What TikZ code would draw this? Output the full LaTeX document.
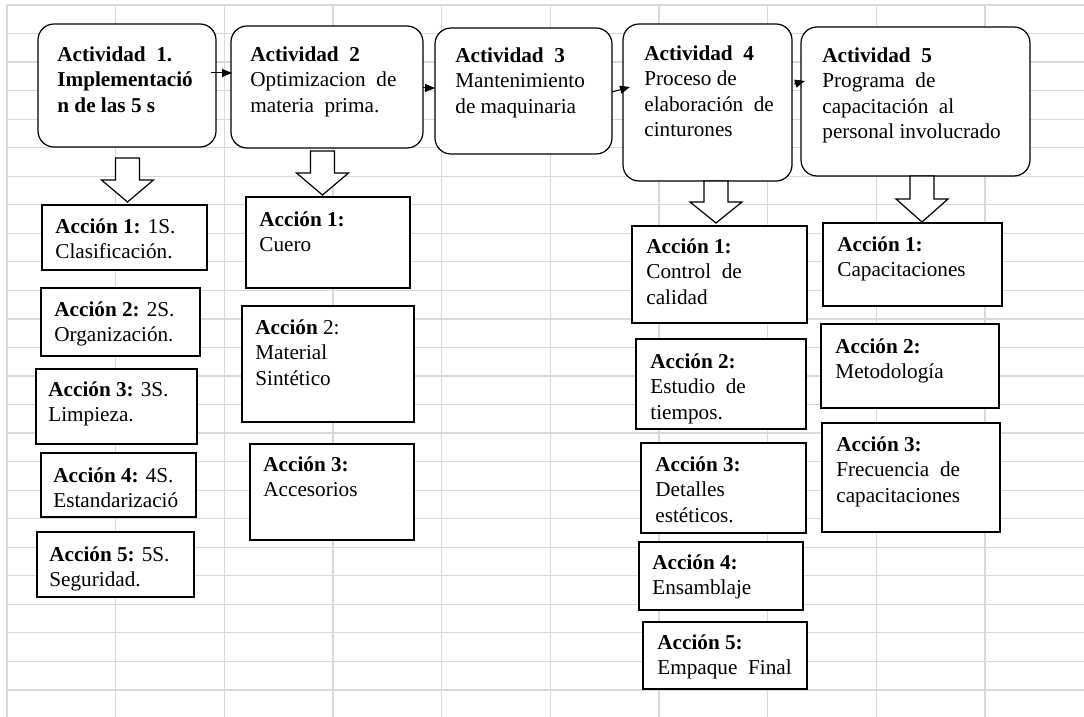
\documentclass[tikz,border=0pt]{standalone}
\usepackage{fontspec}
\setmainfont{Liberation Serif}
\usetikzlibrary{arrows.meta, calc}

\begin{document}
\begin{tikzpicture}[x=0.5pt, y=-0.5pt,
    actbox/.style={draw=black, line width=0.6pt, fill=white, rounded corners=8pt, inner sep=0pt, outer sep=0pt, anchor=north west},
    accbox/.style={draw=black, line width=0.6pt, fill=white, inner sep=0pt, outer sep=0pt, anchor=north west},
    boxtext/.style={anchor=north west, inner sep=0pt, align=left, font=\fontsize{10.6}{12.75}\selectfont},
    flow/.style={-{Triangle[length=5pt, width=4pt]}, line width=0.5pt},
    bigarrow/.style={draw=black, line width=0.6pt, fill=white, line join=miter},
    gridline/.style={draw=gray!30, line width=0.6pt}]
    % =========================================================
    % SPREADSHEET GRID BEHIND THE DIAGRAM
    % =========================================================
    \useasboundingbox (0,0) rectangle (1084,717);
    \fill[white] (0,0) rectangle (1084,717);
    \begin{scope}[shift={(7,5)}]
        \draw[gridline, xstep=54.33pt, ystep=14.27pt] (0pt,-356pt) grid (538.5pt,0pt);
    \end{scope}

    % =========================================================
    % ACTIVIDADES (ROUNDED BOXES, TOP ROW)
    % =========================================================
    \node[actbox, minimum width=89pt, minimum height=61.5pt] (act1) at (38,24) {};
    \node[actbox, minimum width=96pt, minimum height=61pt] (act2) at (231,26) {};
    \node[actbox, minimum width=88.5pt, minimum height=63pt] (act3) at (435,28) {};
    \node[actbox, minimum width=84.5pt, minimum height=78.5pt] (act4) at (623,24) {};
    \node[actbox, minimum width=114.5pt, minimum height=74.5pt] (act5) at (801,27) {};

    \node[boxtext] (act1txt) at ($(act1.north west)+(19,22)$) {\textbf{Actividad\ \ 1.}\\\textbf{Implementació}\\\textbf{n de las 5 s}};
    \node[boxtext] (act2txt) at ($(act2.north west)+(19,20)$) {\textbf{Actividad\ \ 2}\\Optimizacion\ \ de\\materia\ \ prima.};
    \node[boxtext] (act3txt) at ($(act3.north west)+(20,19)$) {\textbf{Actividad\ \ 3}\\Mantenimiento\\de maquinaria};
    \node[boxtext] (act4txt) at ($(act4.north west)+(21,21)$) {\textbf{Actividad\ \ 4}\\Proceso de\\elaboración\ \ de\\cinturones};
    \node[boxtext] (act5txt) at ($(act5.north west)+(21,20)$) {\textbf{Actividad\ \ 5}\\Programa\ \ de\\capacitación\ \ al\\personal involucrado};

    % flow between activities
    \draw[flow] ($(act1.east)+(-5,-12.5)$) -- ($(act2.west)+(1,-14)$);
    \draw[flow] ($(act2.east)+(0,1)$) -- ($(act3.west)+(0,-3)$);
    \draw[flow] ($(act3.east)+(0,1)$) -- ($(act4.west)+(7,-15.5)$);
    \draw[flow] ($(act4.east)+(2,-18.5)$) -- ($(act5.west)+(4,-20.5)$);

    % =========================================================
    % ACCIONES (PLAIN BOXES, ONE COLUMN PER ACTIVIDAD)
    % =========================================================
    \node[accbox, minimum width=82.5pt, minimum height=32.5pt] (c1a1) at (42,205) {};
    \node[accbox, minimum width=79.5pt, minimum height=34pt] (c1a2) at (41,288) {};
    \node[accbox, minimum width=80.5pt, minimum height=37.5pt] (c1a3) at (36,369) {};
    \node[accbox, minimum width=77.5pt, minimum height=32pt] (c1a4) at (41,453) {};
    \node[accbox, minimum width=78.5pt, minimum height=32.5pt] (c1a5) at (37,532) {};

    \node[accbox, minimum width=82pt, minimum height=45.5pt] (c2a1) at (246,197) {};
    \node[accbox, minimum width=86pt, minimum height=58pt] (c2a2) at (242,306) {};
    \node[accbox, minimum width=82pt, minimum height=48pt] (c2a3) at (250,444) {};

    \node[accbox, minimum width=87.5pt, minimum height=48.5pt] (c4a1) at (632,226) {};
    \node[accbox, minimum width=85pt, minimum height=45pt] (c4a2) at (636,339) {};
    \node[accbox, minimum width=82.5pt, minimum height=45pt] (c4a3) at (641,443) {};
    \node[accbox, minimum width=82pt, minimum height=34pt] (c4a4) at (639,542) {};
    \node[accbox, minimum width=82pt, minimum height=33.5pt] (c4a5) at (643,622) {};

    \node[accbox, minimum width=89.5pt, minimum height=41.5pt] (c5a1) at (823,223) {};
    \node[accbox, minimum width=89pt, minimum height=42pt] (c5a2) at (821,324) {};
    \node[accbox, minimum width=89pt, minimum height=54.5pt] (c5a3) at (822,423) {};

    \node[boxtext] (c1a1txt) at ($(c1a1.north west)+(13,13)$) {\textbf{Acción 1:} 1S.\\Clasificación.};
    \node[boxtext] (c1a2txt) at ($(c1a2.north west)+(13,13)$) {\textbf{Acción 2:} 2S.\\Organización.};
    \node[boxtext] (c1a3txt) at ($(c1a3.north west)+(12,12)$) {\textbf{Acción 3:} 3S.\\Limpieza.};
    \node[boxtext] (c1a4txt) at ($(c1a4.north west)+(12,14)$) {\textbf{Acción 4:} 4S.\\Estandarizació};
    \node[boxtext] (c1a5txt) at ($(c1a5.north west)+(12,14)$) {\textbf{Acción 5:} 5S.\\Seguridad.};

    \node[boxtext] (c2a1txt) at ($(c2a1.north west)+(13,14)$) {\textbf{Acción 1:}\\Cuero};
    \node[boxtext] (c2a2txt) at ($(c2a2.north west)+(13,13)$) {\textbf{Acción} 2:\\Material\\Sintético};
    \node[boxtext] (c2a3txt) at ($(c2a3.north west)+(13,12)$) {\textbf{Acción 3:}\\Accesorios};

    \node[boxtext] (c4a1txt) at ($(c4a1.north west)+(14,12)$) {\textbf{Acción 1:}\\Control\ \ de\\calidad};
    \node[boxtext] (c4a2txt) at ($(c4a2.north west)+(14,14)$) {\textbf{Acción 2:}\\Estudio\ \ de\\tiempos.};
    \node[boxtext] (c4a3txt) at ($(c4a3.north west)+(14,13)$) {\textbf{Acción 3:}\\Detalles\\estéticos.};
    \node[boxtext] (c4a4txt) at ($(c4a4.north west)+(13,12)$) {\textbf{Acción 4:}\\Ensamblaje};
    \node[boxtext] (c4a5txt) at ($(c4a5.north west)+(14,12)$) {\textbf{Acción 5:}\\Empaque\ \ Final};

    \node[boxtext] (c5a1txt) at ($(c5a1.north west)+(14,13)$) {\textbf{Acción 1:}\\Capacitaciones};
    \node[boxtext] (c5a2txt) at ($(c5a2.north west)+(14,14)$) {\textbf{Acción 2:}\\Metodología};
    \node[boxtext] (c5a3txt) at ($(c5a3.north west)+(14,13)$) {\textbf{Acción 3:}\\Frecuencia\ \ de\\capacitaciones};

    % =========================================================
    % HOLLOW BLOCK ARROWS DOWN TO THE ACCIONES
    % =========================================================
    \draw[bigarrow] ($(act1.south)+(0.5,11)$) -- ++(12,0) -- ++(0,22) -- ++(14,0) -- ++(-26,22) -- ++(-26,-22) -- ++(14,0) -- ++(0,-22) -- cycle;
    \draw[bigarrow] ($(act2.south)+(-4.5,3)$) -- ++(12,0) -- ++(0,22) -- ++(14,0) -- ++(-26,22) -- ++(-26,-22) -- ++(14,0) -- ++(0,-22) -- cycle;
    \draw[bigarrow] ($(act4.south)+(8.5,0)$) -- ++(12,0) -- ++(0,21) -- ++(14,0) -- ++(-26,21) -- ++(-26,-21) -- ++(14,0) -- ++(0,-21) -- cycle;
    \draw[bigarrow] ($(act5.south)+(6.5,0)$) -- ++(12,0) -- ++(0,23) -- ++(14,0) -- ++(-26,23) -- ++(-26,-23) -- ++(14,0) -- ++(0,-23) -- cycle;
\end{tikzpicture}
\end{document}
